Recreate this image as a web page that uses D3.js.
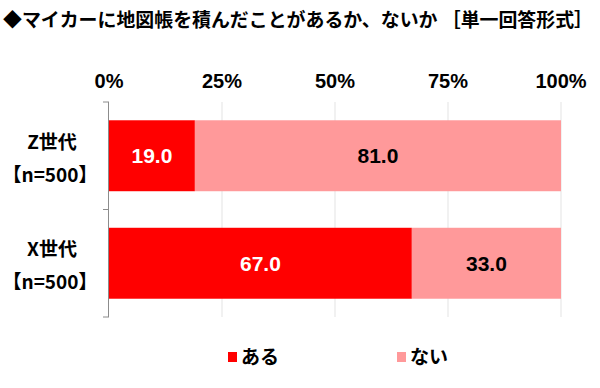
<!DOCTYPE html>
<html>
<head>
<meta charset="utf-8">
<script src="https://cdn.jsdelivr.net/npm/d3@7"></script>
<style>
  body { margin: 0; background: #fff; }
  text { font-family: "Noto Sans CJK JP", "Liberation Sans", sans-serif; font-weight: bold; }
</style>
</head>
<body>
<svg id="chart" width="600" height="388"></svg>
<script>
// data
var categories = ["Z世代", "X世代"];
var sampleLabels = ["【n=500】", "【n=500】"];
var seriesNames = ["ある", "ない"];
var aru = [19.0, 67.0];
var nai = [81.0, 33.0];
var ticks = [0, 25, 50, 75, 100];
var colors = ["#ff0000", "#ff999a"];
var title = "◆マイカーに地図帳を積んだことがあるか、ないか ［単一回答形式］";

var svg = d3.select("#chart");
var margin = { top: 102, left: 109, right: 39, bottom: 71 };
var width = 600 - margin.left - margin.right,
    height = 388 - margin.top - margin.bottom;

var x = d3.scaleLinear().domain([0, 100]).range([margin.left, margin.left + width]);
var y = d3.scaleBand().domain(categories).range([margin.top, margin.top + height])
    .paddingInner(0.34).paddingOuter(0.17);

// title
svg.append("text")
    .attr("x", 3).attr("y", 27)
    .style("font-size", "19px")
    .attr("textLength", 590)
    .attr("lengthAdjust", "spacingAndGlyphs")
    .text(title);

// gridlines
svg.selectAll(".grid")
    .data(ticks.slice(1))
    .enter().append("line")
    .attr("x1", d => x(d)).attr("x2", d => x(d))
    .attr("y1", margin.top).attr("y2", margin.top + height)
    .attr("stroke", "#e3e3e3").attr("stroke-width", 1);

// tick labels
svg.selectAll(".tickLabel")
    .data(ticks)
    .enter().append("text")
    .attr("x", d => x(d)).attr("y", 88)
    .attr("text-anchor", "middle")
    .style("font-family", "'Liberation Sans', Arial, sans-serif")
    .style("font-size", "20px")
    .text(d => d + "%");

// stacked bars
var rows = categories.map((c, i) => ({ cat: c, vals: [aru[i], nai[i]] }));
rows.forEach(function(r) {
    var start = 0;
    r.vals.forEach(function(v, j) {
        svg.append("rect")
            .attr("x", x(start))
            .attr("y", y(r.cat))
            .attr("width", x(start + v) - x(start))
            .attr("height", y.bandwidth())
            .attr("fill", colors[j]);
        svg.append("text")
            .attr("x", x(start + v / 2))
            .attr("y", y(r.cat) + y.bandwidth() / 2)
            .attr("dy", "0.36em")
            .attr("text-anchor", "middle")
            .style("font-family", "'Liberation Sans', Arial, sans-serif")
            .style("font-size", "21px")
            .attr("fill", j == 0 ? "#fff" : "#000")
            .text(v.toFixed(1));
        start += v;
    });
});

// axis line and ticks
svg.append("line")
    .attr("x1", margin.left - 0.5).attr("x2", margin.left - 0.5)
    .attr("y1", margin.top).attr("y2", margin.top + height)
    .attr("stroke", "#8c8c8c").attr("stroke-width", 1);
var tickYs = [margin.top].concat(categories.map(c => y(c) + y.bandwidth() + y.step() * y.paddingInner() / 2));
tickYs[tickYs.length - 1] = margin.top + height;
svg.selectAll(".ytick")
    .data(tickYs)
    .enter().append("line")
    .attr("x1", margin.left - 6).attr("x2", margin.left)
    .attr("y1", d => d).attr("y2", d => d)
    .attr("stroke", "#8c8c8c").attr("stroke-width", 1);

// category labels
categories.forEach(function(c, i) {
    var cy = y(c) + y.bandwidth() / 2;
    svg.append("text")
        .attr("x", 52).attr("y", cy - 7)
        .attr("text-anchor", "middle")
        .style("font-size", "19px")
        .text(c);
    svg.append("text")
        .attr("x", 50).attr("y", cy + 26)
        .attr("text-anchor", "middle")
        .style("font-size", "19px")
        .text(sampleLabels[i]);
});

// legend
var legendX = [228, 397];
seriesNames.forEach(function(s, i) {
    svg.append("rect")
        .attr("x", legendX[i]).attr("y", 352)
        .attr("width", 9).attr("height", 10)
        .attr("fill", colors[i]);
    svg.append("text")
        .attr("x", legendX[i] + 13).attr("y", 364)
        .style("font-size", "19px")
        .text(s);
});
</script>
</body>
</html>
